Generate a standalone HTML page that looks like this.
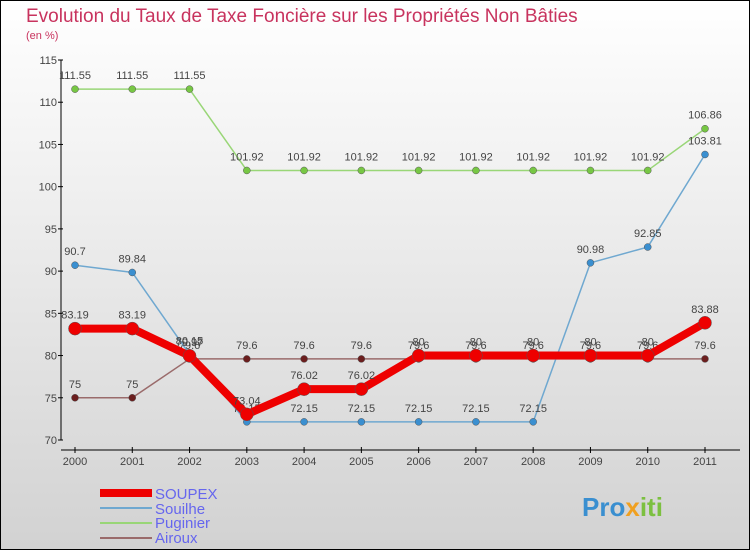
<!DOCTYPE html>
<html><head><meta charset="utf-8"><style>
body{margin:0;width:750px;height:550px;overflow:hidden;font-family:"Liberation Sans",sans-serif}
svg text{font-family:"Liberation Sans",sans-serif}
</style></head><body>
<svg id="chart" width="750" height="550" xmlns="http://www.w3.org/2000/svg">
<defs><linearGradient id="bg" x1="0" y1="0" x2="0" y2="1"><stop offset="0" stop-color="#ffffff"/><stop offset="1" stop-color="#d2d2d2"/></linearGradient></defs>
<rect x="0.5" y="0.5" width="749" height="549" fill="url(#bg)" stroke="#000"/>
<text x="26" y="22" font-size="19" fill="#c8335e">Evolution du Taux de Taxe Foncière sur les Propriétés Non Bâties</text>
<text x="26" y="39" font-size="11" fill="#c8335e">(en %)</text>
<g id="axes"></g><g id="series"></g>
<g>
<rect x="100" y="489" width="52" height="8" fill="#ee0000"/>
<text x="155" y="499" font-size="15" fill="#6666ee">SOUPEX</text>
<line x1="100" y1="508" x2="152" y2="508" stroke="#6fa8d0" stroke-width="2"/>
<text x="155" y="514" font-size="15" fill="#6666ee">Souilhe</text>
<line x1="100" y1="523" x2="152" y2="523" stroke="#99d677" stroke-width="2"/>
<text x="155" y="528" font-size="15" fill="#6666ee">Puginier</text>
<line x1="100" y1="538" x2="152" y2="538" stroke="#9a6b6b" stroke-width="2"/>
<text x="155" y="543" font-size="15" fill="#6666ee">Airoux</text>
</g>
<text x="582" y="516" font-size="26" font-weight="bold" fill="#3a8fd0">Pro<tspan fill="#f0a020">x</tspan><tspan fill="#7cc040">iti</tspan></text>
</svg>
<script>
const years=[2000,2001,2002,2003,2004,2005,2006,2007,2008,2009,2010,2011];
const yTicks=[70,75,80,85,90,95,100,105,110,115];
const soupex=[83.19,83.19,79.97,73.04,76.02,76.02,80,80,80,80,80,83.88];
const souilhe=[90.7,89.84,80.15,72.15,72.15,72.15,72.15,72.15,72.15,90.98,92.85,103.81];
const puginier=[111.55,111.55,111.55,101.92,101.92,101.92,101.92,101.92,101.92,101.92,101.92,106.86];
const airoux=[75,75,79.6,79.6,79.6,79.6,79.6,79.6,79.6,79.6,79.6,79.6];
const NS="http://www.w3.org/2000/svg";
const X=i=>75+i*(630/11);
const Y=v=>440-(v-70)*(380/45);
function mk(tag,attrs,parent,txt){const e=document.createElementNS(NS,tag);for(const k in attrs)e.setAttribute(k,attrs[k]);if(txt!==undefined)e.textContent=txt;parent.appendChild(e);return e;}
const ax=document.getElementById('axes');
let a=mk('line',{x1:61,y1:60,x2:61,y2:440,stroke:'#000','stroke-width':1},ax);


a=mk('line',{x1:61,y1:450,x2:740,y2:450,stroke:'#000','stroke-width':1},ax);


yTicks.forEach(v=>{
 const t=mk('line',{x1:58,y1:Y(v),x2:63,y2:Y(v),stroke:'#000'},ax);
 
 
 const l=mk('text',{x:57,y:Y(v)+4,'font-size':11,fill:'#444','text-anchor':'end'},ax,String(v));
 
 
});
years.forEach((y,i)=>{
 const t=mk('line',{x1:X(i),y1:447,x2:X(i),y2:453,stroke:'#000'},ax);
 
 
 const l=mk('text',{x:X(i),y:465,'font-size':11,fill:'#444','text-anchor':'middle'},ax,String(y));
 
 
});
const sg=document.getElementById('series');
function series(name,data,color,w,r,dot){
 const g=mk('g',{},sg);
 
 
 const p=mk('polyline',{points:data.map((v,i)=>X(i)+','+Y(v)).join(' '),fill:'none',stroke:color,'stroke-width':w,'stroke-linejoin':'round'},g);
 
 
 data.forEach((v,i)=>{
  const c=mk('circle',{cx:X(i),cy:Y(v),r:r,fill:dot,stroke:'#555','stroke-width':0.5},g);
  
  
  const t=mk('text',{x:X(i),y:Y(v)-10,'font-size':11,fill:'#444','text-anchor':'middle'},g,String(v));
  
  
 });
}
series('puginier',puginier,'#99d677',1.5,3.5,'#77c744');
series('airoux',airoux,'#9a6b6b',1.5,3.5,'#6b1e1e');
series('souilhe',souilhe,'#6fa8d0',1.5,3.5,'#3a8fd0');
series('soupex',soupex,'#ee0000',8,6.5,'#ee0000');
</script>
</body></html>
